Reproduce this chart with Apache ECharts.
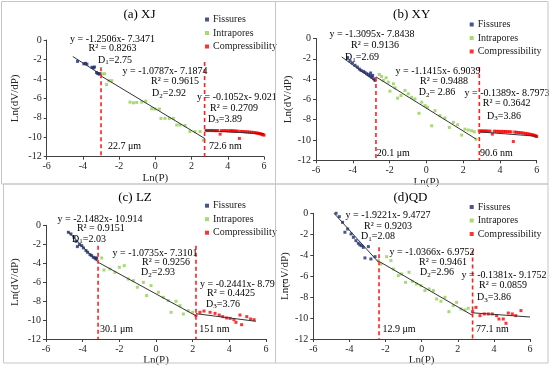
<!DOCTYPE html>
<html><head><meta charset="utf-8">
<script src="https://cdn.jsdelivr.net/npm/echarts@6/dist/echarts.min.js"></script>
<style>html,body{margin:0;padding:0;background:#fff}#c{width:550px;height:369px}</style>
</head><body><div id="c"></div>
<script>
// ---------------- data ----------------
const panelTitles = ['(a) XJ', '(b) XY', '(c) LZ', '(d)QD'];
const seriesNames = ['Fissures', 'Intrapores', 'Compressibility'];
const xTicks = { min: -6, max: 6, interval: 2 };
const yTicks = { min: -12, max: 0, interval: 2 };

const fissuresA = [[-4.30,-2.20],[-3.95,-2.45],[-3.86,-2.40],[-3.78,-2.48],[-3.50,-2.80],[-3.42,-2.86],[-3.36,-2.78],[-3.25,-3.35],[-3.18,-3.45],[-3.10,-3.50],[-3.04,-3.47]];
const intraporesA = [[-2.94,-3.50],[-2.80,-3.47],[-2.69,-4.59],[-2.56,-4.18],[-2.41,-4.18],[-1.40,-6.39],[-1.21,-6.46],[-1.03,-6.42],[-0.75,-6.39],[-0.53,-6.29],[-0.20,-7.07],[-0.02,-7.10],[0.22,-7.10],[0.31,-8.06],[0.53,-8.06],[0.77,-8.06],[0.99,-8.06],[1.18,-8.74],[1.36,-8.74],[1.64,-8.80],[1.91,-9.42],[2.19,-9.42],[2.47,-9.42],[2.65,-10.30]];
const compressA = [[2.80,-9.30],[2.88,-9.32],[2.96,-9.30],[3.04,-9.31],[3.12,-9.30],[3.20,-9.32],[3.28,-9.31],[3.36,-9.33],[3.44,-9.31],[3.58,-9.68],[3.65,-9.32],[3.75,-9.33],[3.85,-9.31],[3.95,-9.34],[4.05,-9.33],[4.15,-9.35],[4.22,-9.33],[4.30,-9.36],[4.38,-9.35],[4.46,-9.38],[4.54,-9.37],[4.64,-10.12],[4.70,-9.40],[4.80,-9.41],[4.90,-9.42],[5.00,-9.44],[5.10,-9.45],[5.20,-9.47],[5.30,-9.49],[5.40,-9.50],[5.50,-9.53],[5.58,-9.56],[5.66,-9.58],[5.72,-9.61],[5.78,-9.64],[5.84,-9.67],[5.90,-9.71],[5.95,-9.74],[6.00,-9.78]];
const fitA = [[[-4.56,-1.70],[-3.00,-3.55]], [[-3.00,-3.70],[2.75,-10.15]], [[2.75,-9.31],[6.00,-9.65]]];
const dashA = [[[-3.00,-2.8],[-3.00,-12]], [[2.72,-2.25],[2.72,-12]]];

const fissuresB = [[-4.28,-1.88],[-4.15,-2.21],[-4.02,-2.41],[-3.88,-2.64],[-3.75,-2.81],[-3.64,-3.01],[-3.55,-3.14],[-3.43,-3.24],[-3.34,-3.34],[-3.24,-3.47],[-3.15,-3.57],[-3.06,-3.67],[-3.03,-3.40],[-2.97,-3.80],[-2.92,-3.64],[-2.86,-3.97],[-2.79,-4.13]];
const intraporesB = [[-2.56,-3.54],[-2.43,-3.74],[-2.34,-4.13],[-2.19,-3.87],[-2.07,-4.30],[-1.98,-5.19],[-1.79,-4.46],[-1.70,-4.86],[-1.56,-5.88],[-1.38,-5.62],[-1.16,-5.12],[-0.98,-5.45],[-0.80,-5.79],[-0.62,-5.95],[-0.40,-7.37],[-0.25,-6.28],[-0.07,-6.61],[0.07,-6.78],[0.29,-8.60],[0.47,-7.11],[0.74,-7.60],[1.01,-7.83],[1.25,-8.76],[1.47,-8.26],[1.70,-8.50],[1.92,-9.52],[2.10,-8.93],[2.28,-9.02],[2.46,-9.09],[2.61,-9.19],[2.70,-9.92]];
const compressB = [[2.88,-9.10],[2.96,-9.12],[3.04,-9.10],[3.12,-9.13],[3.20,-9.11],[3.28,-9.12],[3.36,-9.14],[3.46,-9.12],[3.59,-9.42],[3.70,-9.13],[3.80,-9.15],[3.90,-9.14],[4.00,-9.16],[4.10,-9.15],[4.20,-9.17],[4.30,-9.16],[4.40,-9.19],[4.50,-9.18],[4.60,-9.20],[4.73,-10.15],[4.80,-9.22],[4.90,-9.24],[5.00,-9.26],[5.10,-9.28],[5.20,-9.30],[5.30,-9.33],[5.40,-9.36],[5.50,-9.39],[5.58,-9.42],[5.66,-9.45],[5.74,-9.48],[5.80,-9.51],[5.86,-9.54],[5.92,-9.58],[5.97,-9.62],[6.00,-9.66]];
const fitB = [[[-4.60,-1.82],[-2.79,-4.19]], [[-2.74,-3.78],[2.70,-9.90]], [[2.88,-9.20],[6.00,-9.63]]];
const dashB = [[[-2.74,-3.8],[-2.74,-12]], [[2.88,-2.8],[2.88,-12]]];

const fissuresC = [[-4.78,-0.74],[-4.64,-0.91],[-4.47,-1.27],[-4.36,-1.69],[-4.29,-2.25],[-4.18,-2.04],[-4.05,-2.15],[-3.96,-2.39],[-3.82,-2.67],[-3.73,-2.85],[-3.60,-3.10],[-3.51,-3.20],[-3.42,-3.38],[-3.33,-3.45],[-3.24,-3.45],[-3.27,-3.55]];
const intraporesC = [[-2.96,-3.45],[-2.84,-4.72],[-2.51,-4.61],[-2.24,-4.96],[-2.00,-4.43],[-1.73,-4.26],[-1.51,-5.67],[-1.24,-5.84],[-1.02,-6.54],[-0.69,-6.02],[-0.51,-7.42],[-0.27,-6.37],[0.13,-7.07],[0.40,-7.60],[0.67,-7.95],[0.82,-9.18],[1.09,-8.02],[1.31,-8.48],[1.49,-9.36],[1.76,-9.01],[2.00,-9.18]];
const compressC = [[2.18,-9.54],[2.40,-9.18],[2.62,-9.05],[2.95,-9.18],[3.22,-9.29],[3.45,-9.47],[3.64,-9.64],[3.85,-9.78],[4.04,-9.82],[4.25,-9.96],[4.36,-10.24],[4.58,-9.47],[4.67,-10.49],[4.95,-9.64],[5.16,-9.89],[5.35,-9.96]];
const fitC = [[[-4.78,-0.70],[-3.16,-3.90]], [[-3.16,-3.90],[2.18,-9.55]], [[2.18,-9.33],[5.45,-10.13]]];
const dashC = [[[-3.16,-2.15],[-3.16,-12]], [[2.18,-2.15],[2.18,-12]]];

const fissuresD = [[-4.74,0.00],[-4.56,-0.32],[-4.38,-0.86],[-4.25,-1.81],[-4.10,-1.50],[-3.91,-1.97],[-3.78,-2.29],[-3.64,-2.61],[-3.51,-2.86],[-3.42,-3.02],[-3.32,-3.09],[-3.23,-3.25],[-3.14,-4.26],[-2.95,-3.18],[-2.81,-4.36],[-2.58,-4.14]];
const intraporesD = [[-2.40,-4.52],[-2.25,-4.84],[-1.94,-4.14],[-1.70,-4.52],[-1.57,-5.32],[-1.29,-5.95],[-1.11,-5.79],[-0.89,-6.59],[-0.70,-5.63],[-0.52,-6.49],[-0.28,-6.75],[-0.04,-6.91],[0.18,-7.38],[0.41,-7.22],[0.65,-7.38],[0.83,-8.18],[1.07,-8.40],[1.29,-8.02],[1.51,-9.39],[1.75,-8.82],[1.94,-8.50],[2.18,-9.13],[2.40,-9.23],[2.58,-9.07]];
const compressD = [[2.82,-9.39],[3.01,-8.98],[3.23,-9.77],[3.47,-9.61],[3.69,-9.61],[3.91,-9.61],[4.15,-9.77],[4.28,-10.09],[4.52,-10.09],[4.67,-10.50],[4.80,-9.52],[5.02,-9.61],[5.21,-9.77],[5.50,-9.29]];
const fitD = [[[-4.85,0.00],[-2.40,-4.65]], [[-2.40,-4.55],[2.82,-9.75]], [[2.82,-9.50],[6.00,-9.90]]];
const dashD = [[[-2.36,-3.25],[-2.36,-12]], [[2.82,-3.55],[2.82,-12]]];

// annotation texts per panel
const annoTextA = ['y = -1.2506x- 7.3471','R² = 0.8263',['D','1','=2.75'],'y = -1.0787x- 7.1874','R² = 0.9615',['D','2','=2.92'],'y = -0.1052x- 9.0219','R² = 0.2709',['D','3','=3.89'],'22.7 μm','72.6 nm'];
const annoTextB = ['y = -1.3095x- 7.8438','R² = 0.9136',['D','1','=2.69'],'y = -1.1415x- 6.9039','R² = 0.9488',['D','2','= 2.86'],'y = -0.1389x- 8.7973','R² = 0.3642',['D','3','=3.86'],'20.1 μm','90.6 nm'];
const annoTextC = ['y = -2.1482x- 10.914','R² = 0.9151',['D','1','=2.03'],'y = -1.0735x- 7.3101','R² = 0.9256',['D','2','=2.93'],'y = -0.2441x- 8.7963','R² = 0.4425',['D','3','=3.76'],'30.1 μm','151 nm'];
const annoTextD = ['y = -1.9221x- 9.4727','R² = 0.9203',['D','1','=2.08'],'y = -1.0366x- 6.9752','R² = 0.9461',['D','2','=2.96'],'y = -0.1381x- 9.1752','R² = 0.0859',['D','3','=3.86'],'12.9 μm','77.1 nm'];

// ---------------- layout (pixels) ----------------
const FONT = 'Liberation Serif';
const grids = [
  {left: 46.7, top: 40, width: 217.3, height: 116.7},
  {left: 316, top: 38.5, width: 220.7, height: 121.8},
  {left: 46, top: 225.3, width: 220, height: 113.7},
  {left: 313.3, top: 213.3, width: 216.7, height: 125.7}
];
const yNameGap = [26, 22, 25.5, 20];
const titlePos = [[139.5,15],[411.7,15],[135,197.3],[410.5,197.3]];
const legendPos = [[205,14.5],[469.7,19.5],[205,200.7],[469.7,202]];
// [x, y, align] for each annotation
const annoPos = [
  [[112.5,39,'center'],[112.5,48.5,'center'],[115,60,'center'],[165,71,'center'],[175,81.7,'center'],[169,93.3,'center'],[197,97.7,'left'],[234,108.3,'center'],[225,119,'center'],[108,146.7,'left'],[209,146.7,'left']],
  [[372,34,'center'],[375,45,'center'],[362,57.3,'center'],[438,71.7,'center'],[444,81.7,'center'],[437,92.7,'center'],[507,93.3,'center'],[506.7,103.3,'center'],[504,116,'center'],[376.7,153,'left'],[480,153,'left']],
  [[100,219,'center'],[100.8,228.3,'center'],[89,239,'center'],[155,253,'center'],[166,262.3,'center'],[158,272.3,'center'],[200,284,'left'],[231,293.3,'center'],[223,304,'center'],[100,329.7,'left'],[199.3,329.7,'left']],
  [[388,215.7,'center'],[388,226,'center'],[378,236.7,'center'],[432,252.3,'center'],[443,262.3,'center'],[437,272.3,'center'],[504,275.7,'center'],[503,285.7,'center'],[494,297.3,'center'],[382.5,329.7,'left'],[476,329.7,'left']]
];

const panels = [
  {fis: fissuresA, intra: intraporesA, comp: compressA, fit: fitA, dash: dashA, anno: annoTextA},
  {fis: fissuresB, intra: intraporesB, comp: compressB, fit: fitB, dash: dashB, anno: annoTextB},
  {fis: fissuresC, intra: intraporesC, comp: compressC, fit: fitC, dash: dashC, anno: annoTextC},
  {fis: fissuresD, intra: intraporesD, comp: compressD, fit: fitD, dash: dashD, anno: annoTextD}
];
const colors = ['#1b2a72', '#92D050', '#FF0000'];

const option = {
  animation: false,
  backgroundColor: '#fff',
  textStyle: {fontFamily: FONT},
  grid: grids.map(g => Object.assign({containLabel: false}, g)),
  xAxis: grids.map((g, i) => ({
    gridIndex: i, type: 'value', min: xTicks.min, max: xTicks.max, interval: xTicks.interval,
    name: 'Ln(P)', nameLocation: 'middle', nameGap: 15,
    nameTextStyle: {fontFamily: FONT, fontSize: 11, color: '#262626'},
    axisLine: {onZero: false, lineStyle: {color: '#404040', width: 1}},
    axisTick: {show: true, inside: false, length: 3, lineStyle: {color: '#404040'}},
    axisLabel: {fontFamily: FONT, fontSize: 10, color: '#262626', margin: 5},
    splitLine: {show: false}
  })),
  yAxis: grids.map((g, i) => ({
    gridIndex: i, type: 'value', min: yTicks.min, max: yTicks.max, interval: yTicks.interval,
    name: 'Ln(dV/dP)', nameLocation: 'middle', nameGap: yNameGap[i],
    nameTextStyle: {fontFamily: FONT, fontSize: 11, color: '#262626'},
    axisLine: {show: true, onZero: false, lineStyle: {color: '#404040', width: 1}},
    axisTick: {show: true, inside: false, length: 3, lineStyle: {color: '#404040'}},
    axisLabel: {fontFamily: FONT, fontSize: 10, color: '#262626', margin: 5},
    splitLine: {show: false}
  })),
  legend: legendPos.map(p => ({
    left: p[0], top: p[1], orient: 'vertical', padding: 0, itemGap: 3.5,
    itemWidth: 4, itemHeight: 4, icon: 'rect', selectedMode: false,
    data: seriesNames.slice(),
    textStyle: {fontFamily: FONT, fontSize: 10, color: '#1a1a1a', lineHeight: 10, padding: [0,0,0,-1]}
  })),
  series: [],
  graphic: []
};

panels.forEach((p, i) => {
  const ax = {xAxisIndex: i, yAxisIndex: i};
  [p.fis, p.intra, p.comp].forEach((d, k) => {
    option.series.push(Object.assign({
      type: 'scatter', name: seriesNames[k], data: d, symbol: 'rect', symbolSize: 3,
      itemStyle: {color: colors[k]}, z: 2
    }, ax));
  });
  p.fit.forEach(seg => {
    option.series.push(Object.assign({
      type: 'line', data: seg, symbol: 'none', silent: true,
      lineStyle: {color: '#333333', width: 1}, z: 3
    }, ax));
  });
  p.dash.forEach(seg => {
    option.series.push(Object.assign({
      type: 'line', data: seg, symbol: 'none', silent: true,
      lineStyle: {color: '#FF2020', width: 1.6, type: [4, 3]}, z: 4
    }, ax));
  });
  // title
  option.graphic.push({type: 'text', x: titlePos[i][0], y: titlePos[i][1], z: 10,
    style: {text: panelTitles[i], fontFamily: FONT, fontSize: 13, fill: '#000', align: 'center', verticalAlign: 'middle'}});
  // annotations
  p.anno.forEach((t, j) => {
    const pos = annoPos[i][j];
    let style;
    if (Array.isArray(t)) {
      style = {text: '{n|' + t[0] + '}{s|' + t[1] + '}{n|' + t[2] + '}',
        rich: {n: {fontFamily: FONT, fontSize: 10, lineHeight: 12, fill: '#000', verticalAlign: 'middle'},
               s: {fontFamily: FONT, fontSize: 7, lineHeight: 7, fill: '#000', verticalAlign: 'bottom'}}};
    } else {
      style = {text: t, fontFamily: FONT, fontSize: 10, fill: '#000'};
    }
    style.align = pos[2]; style.verticalAlign = 'middle';
    option.graphic.push({type: 'text', x: pos[0], y: pos[1], z: 10, style});
  });
});

// clip overflow at the panel divide and draw panel borders
option.graphic.push({type: 'rect', shape: {x: 275.5, y: 8, width: 7.5, height: 28}, style: {fill: '#fff'}, z: 20});
option.graphic.push({type: 'rect', shape: {x: 275.5, y: 90, width: 7.5, height: 14}, style: {fill: '#fff'}, z: 20});
option.graphic.push({type: 'rect', shape: {x: 275.5, y: 186, width: 7.5, height: 40}, style: {fill: '#fff'}, z: 20});
option.graphic.push({type: 'rect', shape: {x: 275.5, y: 277, width: 7.5, height: 14}, style: {fill: '#fff'}, z: 20});
const borderStyle = {fill: 'none', stroke: '#c6c6c6', lineWidth: 1};
[[1.5,1.5,274,182.5],[275.5,1.5,272.5,182.5],[3.5,184,272,179],[275.5,184,272.5,179]].forEach(r => {
  option.graphic.push({type: 'rect', shape: {x: r[0], y: r[1], width: r[2], height: r[3]}, style: borderStyle, z: 30, silent: true});
});

const chart = echarts.init(document.getElementById('c'), null, {renderer: 'canvas'});
chart.setOption(option);
</script>
</body></html>
